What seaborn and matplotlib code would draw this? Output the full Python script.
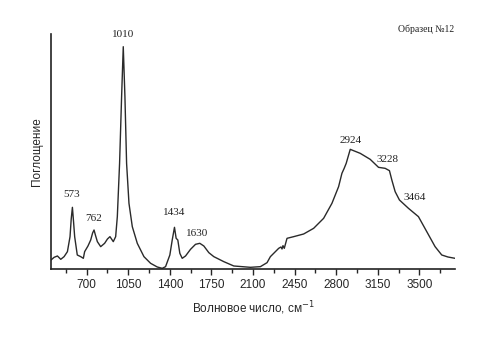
import matplotlib
matplotlib.use("Agg")
import matplotlib.pyplot as plt
import seaborn as sns
import pandas as pd
from matplotlib.ticker import MultipleLocator

wavenumber = [400, 426, 454, 482, 510, 538, 560, 570, 580, 590, 599, 621, 650, 672, 683,
              711, 734, 750, 762, 775, 790, 818, 851, 875, 896, 924, 944, 958, 977, 994,
              1008, 1022, 1036, 1056, 1084, 1126, 1182, 1238, 1294, 1336, 1364, 1400, 1420,
              1439, 1453, 1467, 1484, 1504, 1532, 1574, 1616, 1652, 1686, 1728, 1770, 1854,
              1938, 2078, 2162, 2218, 2246, 2274, 2316, 2335, 2344, 2352, 2363, 2386, 2442,
              2526, 2610, 2694, 2764, 2820, 2848, 2867, 2884, 2918, 3002, 3086, 3156, 3212,
              3248, 3268, 3296, 3332, 3408, 3492, 3562, 3632, 3688, 3740, 3800]
absorbance = [27, 35, 39, 29, 37, 52, 97, 150, 185, 140, 97, 42, 37, 32, 52,
              69, 87, 108, 117, 100, 82, 67, 77, 90, 97, 82, 97, 157, 317, 517,
              667, 517, 317, 197, 127, 77, 37, 17, 6, 2, 7, 42, 87,
              125, 92, 87, 47, 32, 39, 59, 74, 77, 69, 49, 37, 22,
              9, 5, 7, 19, 37, 47, 62, 66, 60, 70, 62, 92, 97,
              105, 122, 152, 197, 247, 287, 302, 317, 359, 347, 329, 305, 302,
              295, 267, 232, 207, 182, 157, 112, 67, 42, 36, 32]

peak_labels = ["573", "762", "1010", "1434", "1630", "2924", "3228", "3464"]
peak_x = [573, 762, 1010, 1434, 1630, 2924, 3228, 3464]
peak_y = [210, 137, 690, 155, 92, 373, 315, 200]

x_ticks = [700, 1050, 1400, 1750, 2100, 2450, 2800, 3150, 3500]

df = pd.DataFrame({"wn": wavenumber, "abs": absorbance})

sns.set_style("ticks")
plt.rcParams["font.family"] = ["Liberation Sans", "DejaVu Sans"]

fig = plt.figure(figsize=(4.79, 3.42), dpi=100)
ax = fig.add_axes([0.1065, 0.2135, 0.8435, 0.687])
sns.lineplot(data=df, x="wn", y="abs", ax=ax, color="#2a2a2a", linewidth=1.0, sort=False)

ax.set_xlim(400, 3800)
ax.set_ylim(0, 705)
ax.set_xticks(x_ticks)
ax.set_xticklabels([str(t) for t in x_ticks], fontsize=8.5)
ax.xaxis.set_minor_locator(MultipleLocator(175))
ax.tick_params(axis="x", which="major", length=4, width=1, direction="out", pad=3)
ax.tick_params(axis="x", which="minor", length=3, width=1, direction="out")
ax.set_yticks([])
for s in ["top", "right"]:
    ax.spines[s].set_visible(False)
for s in ["left", "bottom"]:
    ax.spines[s].set_linewidth(1.2)
    ax.spines[s].set_color("#222222")

ax.set_xlabel("Волновое число, см$^{-1}$", fontsize=8.5, labelpad=6)
ax.set_ylabel("Поглощение", fontsize=8.5, labelpad=6)

for lab, px, py in zip(peak_labels, peak_x, peak_y):
    ax.text(px, py, lab, ha="center", va="bottom", fontsize=8,
            family=["Liberation Serif", "DejaVu Serif"], color="#222222")

fig.text(0.948, 0.915, "Образец №12", ha="right", va="center", fontsize=7,
         family=["Liberation Serif", "DejaVu Serif"], color="#222222")

fig.savefig("out.png", dpi=100)
